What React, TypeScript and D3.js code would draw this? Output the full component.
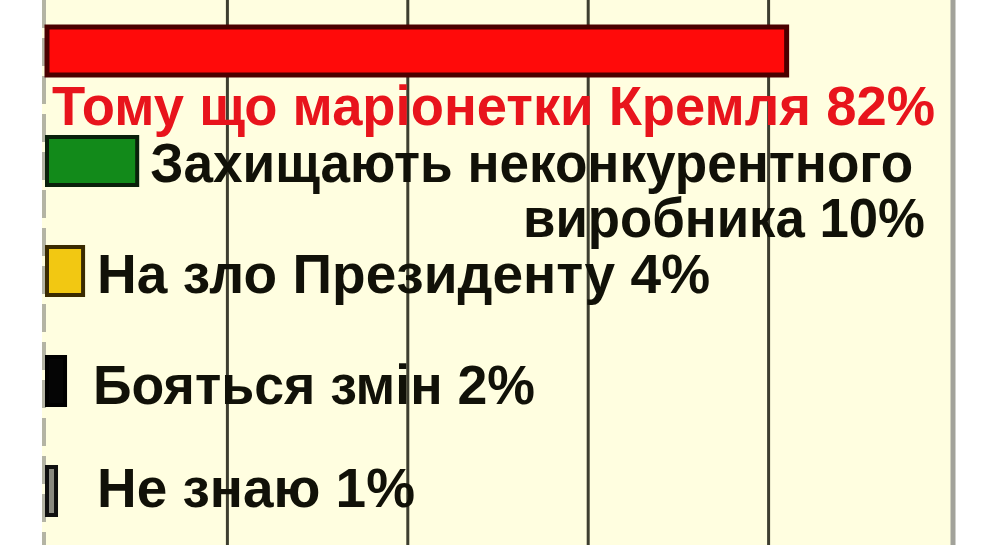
import React from "react";
import * as d3 from "d3";

const categories = [
  "Тому що маріонетки Кремля",
  "Захищають неконкурентного виробника",
  "На зло Президенту",
  "Бояться змін",
  "Не знаю",
];
const values = [82, 10, 4, 2, 1];
const ticks = [0, 20, 40, 60, 80, 100];
const barColors = ["#ff0a0a", "#128a1a", "#f2c812", "#050505", "#8a8a80"];
const barStrokes = ["#4a0000", "#0a200a", "#3a2a00", "#000000", "#101010"];
const labelLines = [
  ["Тому що маріонетки Кремля 82%"],
  ["Захищають неконкурентного", "виробника 10%"],
  ["На зло Президенту 4%"],
  ["Бояться змін 2%"],
  ["Не знаю 1%"],
];

const W = 1000;
const H = 545;

export default function App() {
  const x = d3.scaleLinear().domain([0, 100]).range([47, 949]);
  const y = d3
    .scaleBand<string>()
    .domain(categories)
    .range([27, 515])
    .paddingInner(0.5636)
    .paddingOuter(0)
    .align(0);
  const bw = y.bandwidth();
  const font = "'Liberation Sans', Arial, sans-serif";
  const fs = 56;

  // label layout: [x, baseline offset from bar top, fitted width]
  const layout: [number, number, number][][] = [
    [[52, 98, 883]],
    [
      [x(values[1]) + 13, 45, 763],
      [523, 100, 402],
    ],
    [[Math.max(x(values[2]) + 14, 94), 46, 613]],
    [[93, 47, 442]],
    [[97, 40, 318]],
  ];

  return (
    <div style={{ position: "fixed", left: 0, top: 0, width: W, height: H, background: "#fff" }}>
      <svg width={W} height={H} style={{ display: "block" }}>
        <rect x={0} y={0} width={W} height={H} fill="#ffffff" />
        <rect x={42} y={0} width={x(100) + 3 - 42} height={H} fill="#fffee0" />
        {/* left dashed axis */}
        <line x1={44} x2={44} y1={0} y2={H} stroke="#b4b4a4" strokeWidth={4} strokeDasharray="28,10" />
        {/* gridlines */}
        {ticks
          .filter((t) => t > 0 && t < 100)
          .map((t) => (
            <line key={t} x1={x(t)} x2={x(t)} y1={0} y2={H} stroke="#3e3e30" strokeWidth={3} />
          ))}
        <line x1={x(100) + 4} x2={x(100) + 4} y1={0} y2={H} stroke="#a2a29a" strokeWidth={5} />
        {/* bars */}
        {categories.map((c, i) => (
          <rect
            key={c}
            x={x(0)}
            y={y(c)!}
            width={x(values[i]) - x(0)}
            height={bw}
            fill={barColors[i]}
            stroke={barStrokes[i]}
            strokeWidth={i === 0 ? 5 : 4}
          />
        ))}
        {/* labels */}
        {categories.map((c, i) => {
          const top = y(c)!;
          return (
            <g
              key={c}
              fontFamily={font}
              fontWeight="bold"
              fontSize={fs}
              fill={i === 0 ? "#e8141c" : "#111108"}
            >
              {labelLines[i].map((line, j) => {
                const [lx, off, len] = layout[i][j];
                return (
                  <text
                    key={j}
                    x={lx}
                    y={top + off}
                    textLength={len}
                    lengthAdjust="spacingAndGlyphs"
                  >
                    {line}
                  </text>
                );
              })}
            </g>
          );
        })}
      </svg>
    </div>
  );
}
